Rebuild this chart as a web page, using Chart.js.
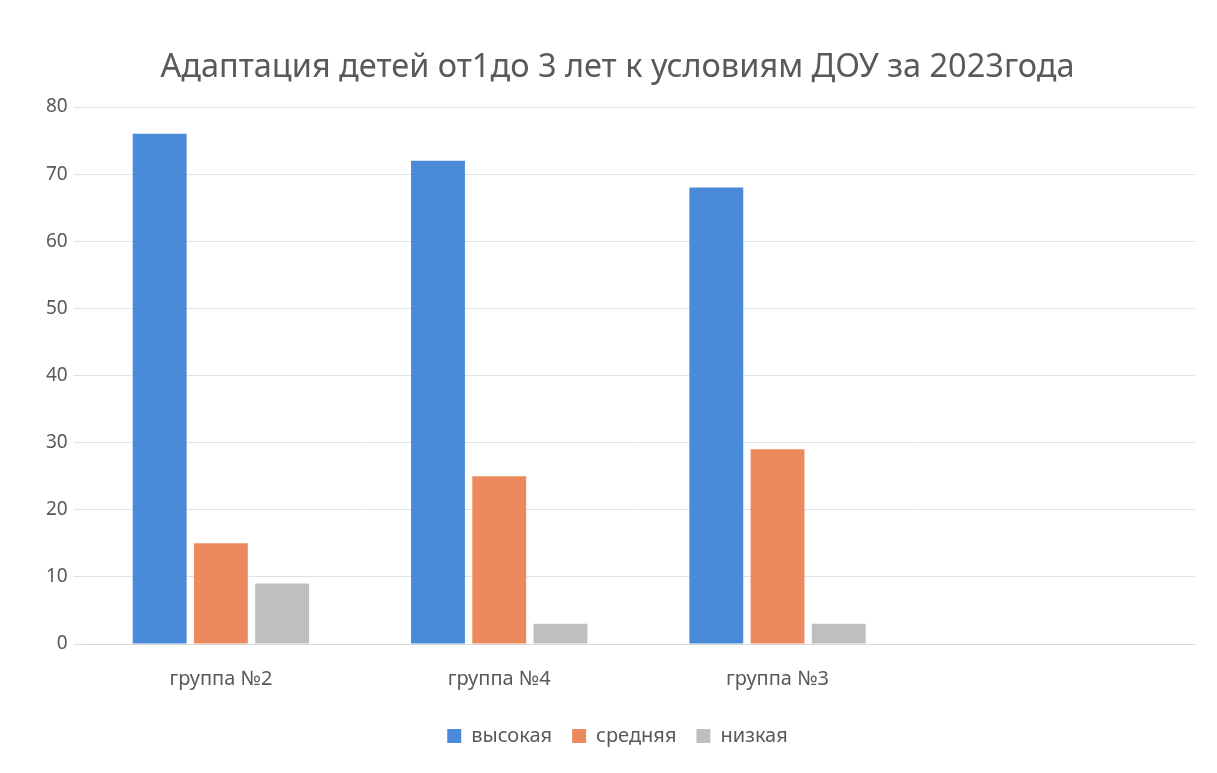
<!DOCTYPE html>
<html lang="ru">

<head>
    <meta charset="UTF-8">
    <title>Адаптация детей</title>
    <style>
        html, body { margin: 0; padding: 0; background: #ffffff; }
        #wrap { width: 1217px; height: 773px; }
    </style>
</head>

<body>
    <div id="wrap">
        <canvas id="myChart" width="1217" height="773"></canvas>
    </div>

    <script src="https://cdn.jsdelivr.net/npm/chart.js"></script>

    <script>
        // группы (4-я категория пустая, как на исходной диаграмме)
        let v_labels = ["группа №2", "группа №4", "группа №3", ""];
        let v_high = [76, 72, 68, null];
        let v_mid = [15, 25, 29, null];
        let v_low = [9, 3, 3, null];
        let v_yTicks = [0, 10, 20, 30, 40, 50, 60, 70, 80];

        const ctx = document.getElementById("myChart");

        new Chart(ctx, {
            type: 'bar',
            data: {
                labels: v_labels,
                datasets: [
                    { label: "высокая", data: v_high, backgroundColor: "#4a8bd9" },
                    { label: "средняя", data: v_mid, backgroundColor: "#ec8a5e" },
                    { label: "низкая", data: v_low, backgroundColor: "#bdbfc0" }
                ]
            },
            options: {
                responsive: false,
                animation: false,
                devicePixelRatio: 1,
                layout: {
                    padding: { top: 48, left: 40, right: 22, bottom: 17 }
                },
                datasets: {
                    bar: { categoryPercentage: 0.66, barPercentage: 0.88 }
                },
                scales: {
                    x: {
                        grid: { display: false },
                        border: { color: "#d9d9d9" },
                        ticks: {
                            color: "#595959",
                            font: { family: "Noto Sans", size: 20 },
                            padding: 15
                        }
                    },
                    y: {
                        min: 0,
                        max: 80,
                        afterBuildTicks: function (axis) {
                            axis.ticks = v_yTicks.map(v => ({ value: v }));
                        },
                        grid: { color: "#dde3ea" },
                        border: { display: false },
                        ticks: {
                            color: "#595959",
                            font: { family: "Noto Sans", size: 19 },
                            padding: 6
                        }
                    }
                },
                plugins: {
                    title: {
                        display: true,
                        text: "Адаптация детей от1до 3 лет к условиям ДОУ за 2023года",
                        color: "#595959",
                        font: { family: "Noto Sans", size: 32.5, weight: "normal" },
                        padding: { top: 0, bottom: 20 }
                    },
                    legend: {
                        position: "bottom",
                        labels: {
                            color: "#595959",
                            font: { family: "Noto Sans", size: 20 },
                            boxWidth: 14,
                            boxHeight: 14,
                            padding: 20
                        }
                    },
                    tooltip: { enabled: false }
                }
            }
        });
    </script>

</body>

</html>
